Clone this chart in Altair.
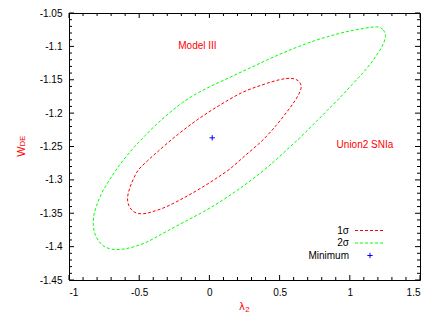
import altair as alt
import pandas as pd

# 1-sigma contour (lambda_2, w_DE), read clockwise from the top
s1_x = [0.503, 0.581, 0.631, 0.653, 0.645, 0.610, 0.553, 0.474, 0.375, 0.261, 0.147, 0.033,
        -0.081, -0.195, -0.309, -0.409, -0.480, -0.537, -0.573, -0.583, -0.569, -0.544,
        -0.505, -0.441, -0.373, -0.245, -0.095, 0.068, 0.232, 0.382]
s1_y = [-1.1498, -1.1479, -1.1513, -1.1588, -1.1678, -1.1813, -1.1978, -1.2188, -1.2414, -1.2624,
        -1.2834, -1.2999, -1.3149, -1.3284, -1.3404, -1.3479, -1.3509, -1.3479, -1.3389, -1.3269,
        -1.3134, -1.2999, -1.2849, -1.2714, -1.2586, -1.2354, -1.2113, -1.1888, -1.1693, -1.1573]

# 2-sigma contour, read clockwise from the top
s2_x = [1.201, 1.239, 1.254, 1.229, 1.172, 1.101, 1.016, 0.930, 0.838, 0.745, 0.652, 0.567,
        0.474, 0.382, 0.282, 0.182, 0.075, -0.031, -0.138, -0.245, -0.345, -0.444, -0.530,
        -0.608, -0.679, -0.744, -0.786, -0.815, -0.827, -0.822, -0.804, -0.776, -0.740, -0.697,
        -0.649, -0.594, -0.530, -0.459, -0.380, -0.295, -0.202, -0.103, 0.004, 0.111, 0.218,
        0.325, 0.432, 0.538, 0.645, 0.752, 0.859, 0.966, 1.073, 1.158]
s2_y = [-1.0710, -1.0755, -1.0853, -1.1003, -1.1190, -1.1378, -1.1573, -1.1768, -1.1963, -1.2159,
        -1.2354, -1.2519, -1.2699, -1.2864, -1.3029, -1.3179, -1.3329, -1.3464, -1.3584, -1.3704,
        -1.3817, -1.3930, -1.3997, -1.4035, -1.4042, -1.4005, -1.3922, -1.3810, -1.3674, -1.3524,
        -1.3389, -1.3239, -1.3097, -1.2954, -1.2804, -1.2654, -1.2496, -1.2339, -1.2174, -1.2016,
        -1.1858, -1.1723, -1.1603, -1.1498, -1.1393, -1.1288, -1.1183, -1.1085, -1.0995, -1.0913,
        -1.0845, -1.0785, -1.0740, -1.0713]

# best fit
min_x = [0.02]
min_y = [-1.237]

# annotations
ann_text = ["Model III", "Union2 SNIa"]
ann_x = [-0.085, 1.108]
ann_y = [-1.100, -1.248]

legend_labels = ["1\u03c3", "2\u03c3", "Minimum"]

# ticks
x_major = [-1, -0.5, 0, 0.5, 1, 1.5]
x_minor = [-0.9, -0.8, -0.7, -0.6, -0.4, -0.3, -0.2, -0.1, 0.1, 0.2, 0.3, 0.4,
           0.6, 0.7, 0.8, 0.9, 1.1, 1.2, 1.3, 1.4]
y_major = [-1.45, -1.4, -1.35, -1.3, -1.25, -1.2, -1.15, -1.1, -1.05]
y_minor = [-1.44, -1.43, -1.42, -1.41, -1.39, -1.38, -1.37, -1.36, -1.34, -1.33, -1.32, -1.31,
           -1.29, -1.28, -1.27, -1.26, -1.24, -1.23, -1.22, -1.21, -1.19, -1.18, -1.17, -1.16,
           -1.14, -1.13, -1.12, -1.11, -1.09, -1.08, -1.07, -1.06]

W, H = 351, 267
FONT = "Liberation Sans"
RED, GREEN, BLUE = "#ff0000", "#00ff00", "#0000ff"
PLUS = "M -1 0 L 1 0 M 0 -1 L 0 1"


def X(field):
    return alt.X(f"{field}:Q", scale=alt.Scale(domain=[-1, 1.5], nice=False, zero=False),
                 axis=alt.Axis(values=x_major, labelExpr="'' + datum.value", title=None,
                               labelPadding=7, labelFontSize=10, labelFont=FONT,
                               labelColor="black"))


def Y(field):
    return alt.Y(f"{field}:Q", scale=alt.Scale(domain=[-1.45, -1.05], nice=False, zero=False),
                 axis=alt.Axis(values=y_major, labelExpr="'' + datum.value", title=None,
                               labelPadding=7, labelFontSize=10, labelFont=FONT,
                               labelColor="black"))


df1 = pd.DataFrame({"x": s1_x, "y": s1_y, "o": list(range(len(s1_x)))})
df2 = pd.DataFrame({"x": s2_x, "y": s2_y, "o": list(range(len(s2_x)))})
dfm = pd.DataFrame({"x": min_x, "y": min_y})
dfa = pd.DataFrame({"x": ann_x, "y": ann_y, "t": ann_text})

layers = []

# ticks (inward, gnuplot style)
for vals, ln in [(x_major, 5), (x_minor, 3)]:
    d = pd.DataFrame({"v": vals})
    layers.append(alt.Chart(d).mark_rule(color="black", strokeWidth=1).encode(
        x=X("v"), y=alt.value(H), y2=alt.value(H - ln)))
    layers.append(alt.Chart(d).mark_rule(color="black", strokeWidth=1).encode(
        x=X("v"), y=alt.value(0), y2=alt.value(ln)))
for vals, ln in [(y_major, 5), (y_minor, 3)]:
    d = pd.DataFrame({"v": vals})
    layers.append(alt.Chart(d).mark_rule(color="black", strokeWidth=1).encode(
        y=Y("v"), x=alt.value(0), x2=alt.value(ln)))
    layers.append(alt.Chart(d).mark_rule(color="black", strokeWidth=1).encode(
        y=Y("v"), x=alt.value(W), x2=alt.value(W - ln)))

# contours
layers.append(alt.Chart(df2).mark_line(color=GREEN, strokeWidth=1, strokeDash=[3, 2],
                                       interpolate="cardinal-closed").encode(
    x=X("x"), y=Y("y"), order="o:Q"))
layers.append(alt.Chart(df1).mark_line(color=RED, strokeWidth=1, strokeDash=[3, 2],
                                       interpolate="cardinal-closed").encode(
    x=X("x"), y=Y("y"), order="o:Q"))

# minimum
layers.append(alt.Chart(dfm).mark_point(shape=PLUS, size=28, filled=False, color=BLUE,
                                        strokeWidth=1, opacity=1).encode(x=X("x"), y=Y("y")))

# annotations
layers.append(alt.Chart(dfa).mark_text(color=RED, font=FONT, fontSize=10, align="center",
                                       baseline="middle").encode(x=X("x"), y=Y("y"), text="t:N"))

# legend
leg_y = [217.5, 230, 242.5]
one = pd.DataFrame({"a": [0]})
for i, lab in enumerate(legend_labels):
    layers.append(alt.Chart(pd.DataFrame({"t": [lab]})).mark_text(
        font=FONT, fontSize=10, align="right", baseline="middle", color="black").encode(
        x=alt.value(280), y=alt.value(leg_y[i]), text="t:N"))
layers.append(alt.Chart(one).mark_rule(color=RED, strokeWidth=1, strokeDash=[3, 2]).encode(
    x=alt.value(286), x2=alt.value(315), y=alt.value(leg_y[0])))
layers.append(alt.Chart(one).mark_rule(color=GREEN, strokeWidth=1, strokeDash=[3, 2]).encode(
    x=alt.value(286), x2=alt.value(315), y=alt.value(leg_y[1])))
layers.append(alt.Chart(one).mark_point(shape=PLUS, size=28, filled=False, color=BLUE,
                                        strokeWidth=1, opacity=1).encode(
    x=alt.value(301), y=alt.value(leg_y[2])))

# axis titles (with subscripts)
layers.append(alt.Chart(pd.DataFrame({"t": ["W"]})).mark_text(
    font=FONT, fontSize=11, color=RED, angle=270, align="center", baseline="middle").encode(
    x=alt.value(-47.5), y=alt.value(138.5), text="t:N"))
layers.append(alt.Chart(pd.DataFrame({"t": ["DE"]})).mark_text(
    font=FONT, fontSize=7.5, color=RED, angle=270, align="center", baseline="middle").encode(
    x=alt.value(-46.5), y=alt.value(128), text="t:N"))
layers.append(alt.Chart(pd.DataFrame({"t": ["\u03bb"]})).mark_text(
    font="DejaVu Sans", fontSize=10, color=RED, align="center", baseline="middle").encode(
    x=alt.value(173), y=alt.value(293.5), text="t:N"))
layers.append(alt.Chart(pd.DataFrame({"t": ["2"]})).mark_text(
    font=FONT, fontSize=8, color=RED, align="center", baseline="middle").encode(
    x=alt.value(178.5), y=alt.value(297), text="t:N"))

chart = alt.layer(*layers).properties(
    width=W, height=H,
    autosize=alt.AutoSizeParams(type="none"),
    padding={"left": 61, "top": 5, "right": 8, "bottom": 40},
).configure_view(stroke="black", strokeWidth=1).configure_axis(
    domain=False, grid=False, ticks=False, tickSize=0)

chart.save("out.html", embed_options={"renderer": "svg", "actions": False})
